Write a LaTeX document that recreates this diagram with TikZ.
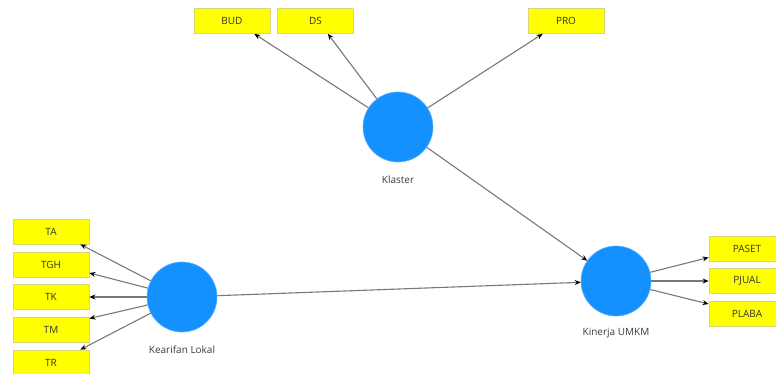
\documentclass[tikz,border=0pt]{standalone}
\usepackage{fontspec}
\setmainfont{Open Sans}
\usetikzlibrary{arrows.meta}
\definecolor{boxyellow}{RGB}{255,255,0}
\definecolor{boxedge}{RGB}{215,215,120}
\definecolor{circblue}{RGB}{20,145,255}
\definecolor{linegray}{RGB}{120,120,120}
\definecolor{txt}{RGB}{60,60,60}
\begin{document}
\begin{tikzpicture}[x=1pt,y=-1pt,
  ind/.style={rectangle,fill=boxyellow,draw=boxedge,line width=0.8pt,minimum width=76pt,minimum height=25pt,inner sep=0pt,font=\fontsize{10}{12}\selectfont,text=black!80},
  lat/.style={circle,fill=circblue,draw=circblue!70!white,line width=0.6pt,minimum size=70pt,inner sep=0pt},
  lab/.style={font=\fontsize{10}{12}\selectfont,text=txt,inner sep=0pt},
  arr/.style={draw=linegray,line width=1.1pt,-{Stealth[length=6pt,width=5pt,color=black]}}]
\useasboundingbox (0,0) rectangle (776,374);
% latent variables
\node[lat] (k) at (398,127) {};
\node[lab] (klab) at (398,180) {Klaster};
\node[lat] (kl) at (182,297) {};
\node[lab] (kllab) at (182,350) {Kearifan Lokal};
\node[lat] (kin) at (616,281) {};
\node[lab] (kinlab) at (616,333) {Kinerja UMKM};
% indicators
\node[ind] (bud) at (232,21) {BUD};
\node[ind] (ds) at (315.5,21) {DS};
\node[ind] (pro) at (566,21) {PRO};
\node[ind] (ta) at (51,231.5) {TA};
\node[ind] (tgh) at (51,265) {TGH};
\node[ind] (tk) at (51,297) {TK};
\node[ind] (tm) at (51,329.5) {TM};
\node[ind] (tr) at (51,362.5) {TR};
\node[ind] (paset) at (747,248.5) {PASET};
\node[ind] (pjual) at (747,281) {PJUAL};
\node[ind] (plaba) at (747,314) {PLABA};
% connectors
\draw[arr] (k) -- ([xshift=-16pt]bud.south east);
\draw[arr] (k) -- ([xshift=-26pt]ds.south east);
\draw[arr] (k) -- ([xshift=15pt]pro.south west);
\draw[arr] (kl) -- ([xshift=-9pt]ta.south east);
\draw[arr] (kl) -- ([yshift=-8pt]tgh.east);
\draw[arr] (kl) -- (tk.east);
\draw[arr] (kl) -- ([yshift=11pt]tm.east);
\draw[arr] (kl) -- ([xshift=-9pt]tr.north east);
\draw[arr] (kin) -- ([yshift=-9pt]paset.west);
\draw[arr] (kin) -- (pjual.west);
\draw[arr] (kin) -- ([yshift=10pt]plaba.west);
\draw[arr] (k) -- (kin);
\draw[arr] (kl) -- (kin);
\end{tikzpicture}
\end{document}
